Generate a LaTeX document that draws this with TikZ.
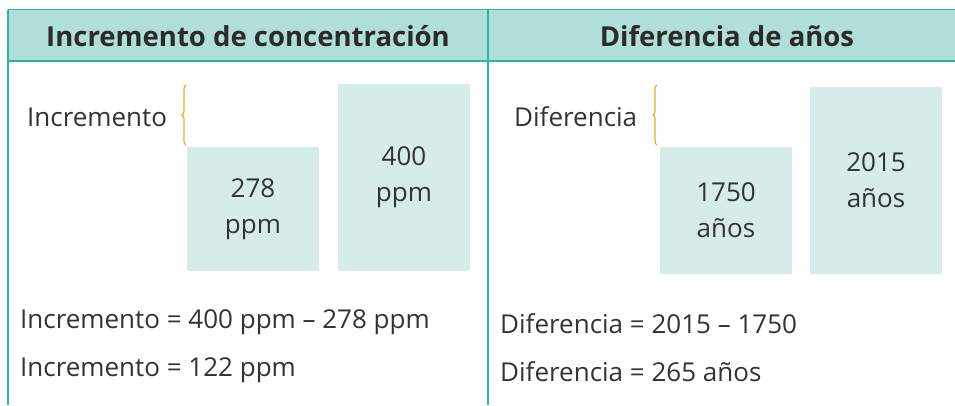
\documentclass[tikz,border=0pt]{standalone}
\usepackage{fontspec}
\setmainfont{Open Sans}
\usetikzlibrary{decorations.pathreplacing}
\definecolor{teal}{HTML}{2BB5A0}
\definecolor{headfill}{HTML}{B0DED8}
\definecolor{boxfill}{HTML}{D5ECE8}
\definecolor{bracecol}{HTML}{F5A623}
\definecolor{txt}{HTML}{333333}
\tikzset{
  rule/.style={draw=teal, line width=1.5pt},
  head/.style={font=\fontsize{27.5}{32}\selectfont\bfseries, text=txt!85!black, inner sep=0pt},
  label/.style={font=\fontsize{26}{30}\selectfont, text=txt, inner sep=0pt},
  valbox/.style={fill=boxfill, minimum width=132pt, align=center, inner sep=0pt,
    font=\fontsize{26}{36}\selectfont, text=txt},
  curly/.style={draw=bracecol, line width=1.3pt, decorate,
    decoration={brace, amplitude=4pt}},
}
\begin{document}
\begin{tikzpicture}[x=1pt,y=-1pt]
\useasboundingbox (0,0) rectangle (955,405);
% header
\fill[headfill] (8,9.5) rectangle (955,61);
\draw[rule] (8,9.5) -- (955,9.5);
\draw[rule] (8,61) -- (955,61);
\draw[rule] (8,9.5) -- (8,405);
\draw[rule] (488,9.5) -- (488,405);
\node[head] (h1) at (248,36) {Incremento de concentración};
\node[head] (h2) at (727,36) {Diferencia de años};
% left panel
\node[valbox, minimum height=124pt] (b278) at (253,209) {278\\ppm};
\node[valbox, minimum height=187pt] (b400) at (404,177.5) {400\\ppm};
\node[label, anchor=west] (inc) at (27,117) {Incremento};
\coordinate (bl1) at (186,145);
\coordinate (bl2) at (186,85);
\draw[curly] (bl1) -- (bl2);
\node[label, anchor=west] (eq1) at (20,322) {Incremento = 400 ppm – 278 ppm};
\node[label, anchor=west] (eq2) at (20,370) {Incremento = 122 ppm};
% right panel
\node[valbox, minimum height=127pt] (b1750) at (726,210) {1750\\años};
\node[valbox, minimum height=187pt] (b2015) at (876,180.5) {2015\\años};
\node[label, anchor=west] (dif) at (514,117) {Diferencia};
\coordinate (br1) at (657,145);
\coordinate (br2) at (657,85);
\draw[curly] (br1) -- (br2);
\node[label, anchor=west] (eq3) at (500,324) {Diferencia = 2015 – 1750};
\node[label, anchor=west] (eq4) at (500,372) {Diferencia = 265 años};
\end{tikzpicture}
\end{document}
